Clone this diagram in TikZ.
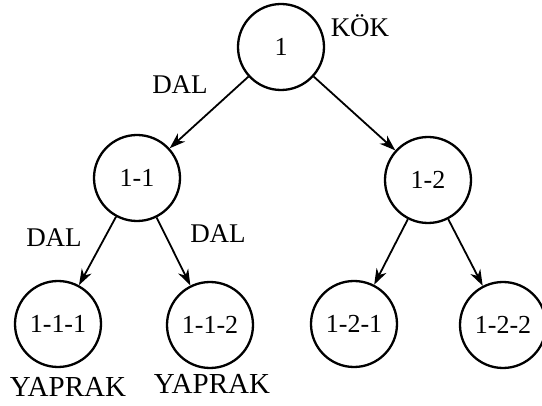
\documentclass[tikz,border=0pt]{standalone}
\usepackage{fontspec}
\setmainfont{Liberation Serif}
\usetikzlibrary{arrows.meta}
\begin{document}
\begin{tikzpicture}[x=1pt,y=-1pt,
  treenode/.style={circle,draw,line width=2.3pt,minimum size=86pt,inner sep=0pt,font=\fontsize{26}{30}\selectfont},
  lbl/.style={font=\fontsize{27}{31}\selectfont,inner sep=0pt},
  leaflbl/.style={font=\fontsize{29}{33}\selectfont,inner sep=0pt},
  edge/.style={line width=1.8pt,-{Stealth[length=16pt,width=11pt,inset=5pt]}}]
\useasboundingbox (0,0) rectangle (542,406);
\node[treenode] (n1) at (281,47) {1};
\node[treenode] (n11) at (137,178) {1-1};
\node[treenode] (n12) at (428,180) {1-2};
\node[treenode] (n111) at (58,324) {1-1-1};
\node[treenode] (n112) at (210,325) {1-1-2};
\node[treenode] (n121) at (354,324) {1-2-1};
\node[treenode] (n122) at (503,325) {1-2-2};
\node[lbl] (kok) at (360,26) {KÖK};
\node[lbl] (dal1) at (180,85) {DAL};
\node[lbl] (dal2) at (54,238) {DAL};
\node[lbl] (dal3) at (218,234) {DAL};
\node[leaflbl] (yap1) at (68,387) {YAPRAK};
\node[leaflbl] (yap2) at (212,384) {YAPRAK};
\draw[edge] (n1) -- (n11);
\draw[edge] (n1) -- (n12);
\draw[edge] (n11) -- (n111);
\draw[edge] (n11) -- (n112);
\draw[edge] (n12) -- (n121);
\draw[edge] (n12) -- (n122);
\end{tikzpicture}
\end{document}
